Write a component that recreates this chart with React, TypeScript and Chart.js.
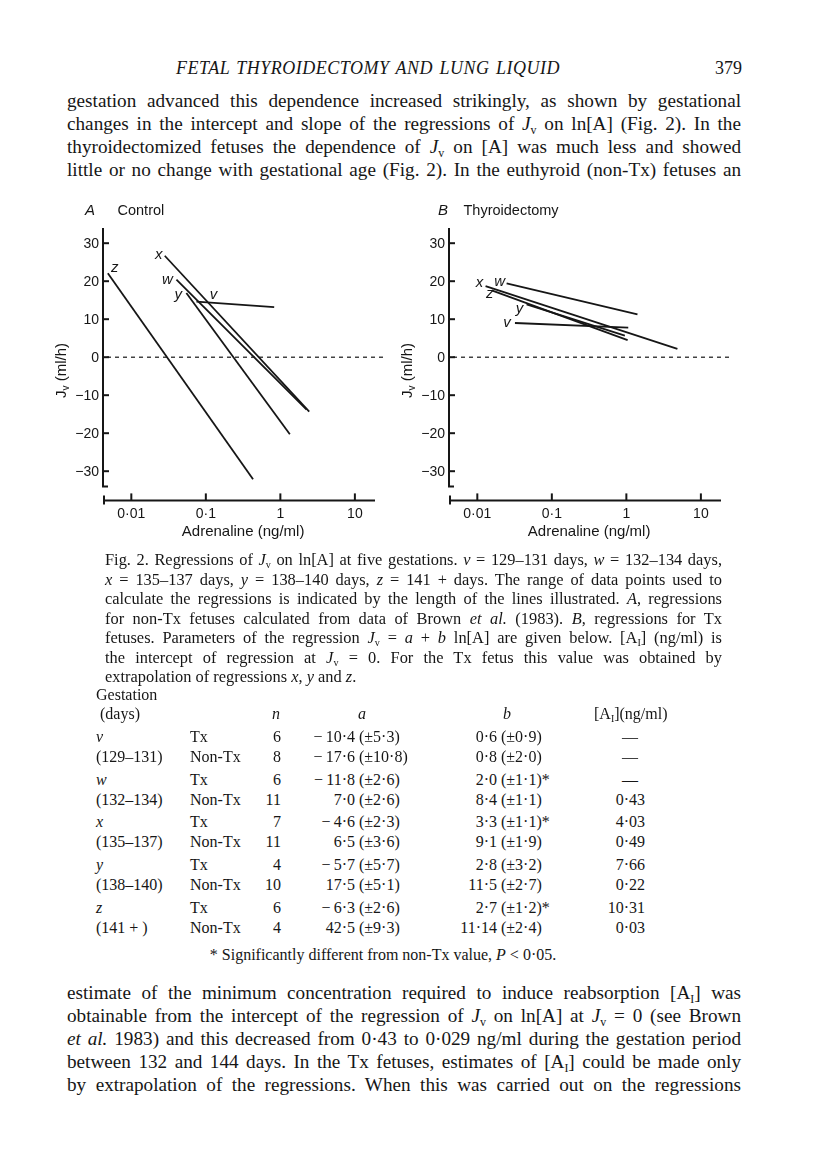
import React, { useEffect, useLayoutEffect, useRef } from 'react';
import { Chart, registerables } from 'chart.js';

Chart.register(...registerables);

// ---------- data ----------
const lineIds = ['v', 'w', 'x', 'y', 'z'];

// Panel A: Control (non-Tx) regressions, start/end of each line
const controlStartAdr = [0.0748, 0.0403, 0.0281, 0.0548, 0.00484];
const controlStartJv = [14.6, 20.4, 26.7, 16.9, 22.1];
const controlEndAdr = [0.826, 2.25, 2.44, 1.34, 0.43];
const controlEndJv = [13.2, -13.8, -14.3, -20.3, -32.1];

// Panel B: Thyroidectomy (Tx) regressions
const txStartAdr = [0.032, 0.0247, 0.0129, 0.0458, 0.0156];
const txStartJv = [9.0, 19.4, 18.7, 13.9, 17.6];
const txEndAdr = [1.06, 1.41, 4.84, 0.955, 1.04];
const txEndJv = [7.8, 11.3, 2.2, 5.7, 4.5];

const yTicks = [30, 20, 10, 0, -10, -20, -30];
const xTicks = [0.01, 0.1, 1, 10];
const xTickLabels = ['0·01', '0·1', '1', '10'];

// Table
const gestLabels = ['v', '(129–131)', 'w', '(132–134)', 'x', '(135–137)', 'y', '(138–140)', 'z', '(141 + )'];
const gestItalic = [true, false, true, false, true, false, true, false, true, false];
const groups = ['Tx', 'Non-Tx', 'Tx', 'Non-Tx', 'Tx', 'Non-Tx', 'Tx', 'Non-Tx', 'Tx', 'Non-Tx'];
const nValues = ['6', '8', '6', '11', '7', '11', '4', '10', '6', '4'];
const aValues = ['−\u200910·4', '−\u200917·6', '−\u200911·8', '7·0', '−\u20094·6', '6·5', '−\u20095·7', '17·5', '−\u20096·3', '42·5'];
const aErrors = ['5·3', '10·8', '2·6', '2·6', '2·3', '3·6', '5·7', '5·1', '2·6', '9·3'];
const bValues = ['0·6', '0·8', '2·0', '8·4', '3·3', '9·1', '2·8', '11·5', '2·7', '11·14'];
const bErrors = ['0·9', '2·0', '1·1', '1·1', '1·1', '1·9', '3·2', '2·7', '1·2', '2·4'];
const bSignificant = [false, false, true, false, true, false, false, false, true, false];
const a1Values = ['—', '—', '—', '0·43', '4·03', '0·49', '7·66', '0·22', '10·31', '0·03'];

// ---------- styling / layout ----------
const INK = '#161616';
const SANS = '"Liberation Sans", Arial, sans-serif';
const SERIF = '"Liberation Serif", "Times New Roman", serif';
const X_MIN = Math.pow(10, -2.38);
const X_MAX = Math.pow(10, 1.27);

type PanelCfg = {
  letter: string;
  title: string;
  letterDx: number;
  labelOffsets: number[][];
};

function makeAxesPlugin(cfg: PanelCfg) {
  return {
    id: 'paperAxes',
    beforeDatasetsDraw(chart: any) {
      const { ctx, chartArea: ca, scales } = chart;
      const y0 = scales.y.getPixelForValue(0);
      ctx.save();
      ctx.strokeStyle = INK;
      ctx.lineWidth = 1.2;
      ctx.setLineDash([4, 4]);
      ctx.beginPath();
      ctx.moveTo(ca.left + 4, y0);
      ctx.lineTo(ca.right + 12, y0);
      ctx.stroke();
      ctx.restore();
    },
    afterDraw(chart: any) {
      const { ctx, chartArea: ca, scales } = chart;
      const xs = scales.x;
      const ys = scales.y;
      ctx.save();
      ctx.strokeStyle = INK;
      ctx.fillStyle = INK;
      ctx.setLineDash([]);
      // y axis
      ctx.lineWidth = 2;
      ctx.beginPath();
      ctx.moveTo(ca.left, ca.top);
      ctx.lineTo(ca.left, ca.bottom);
      ctx.moveTo(ca.left - 1, ca.bottom);
      ctx.lineTo(ca.left + 5, ca.bottom);
      ctx.stroke();
      ctx.font = `14px ${SANS}`;
      ctx.textAlign = 'right';
      ctx.textBaseline = 'middle';
      yTicks.forEach((t) => {
        const py = ys.getPixelForValue(t);
        ctx.beginPath();
        ctx.moveTo(ca.left, py);
        ctx.lineTo(ca.left + 6, py);
        ctx.stroke();
        ctx.fillText(t < 0 ? '−' + Math.abs(t) : String(t), ca.left - 4, py + 1);
      });
      // x axis (detached below)
      const ax = ca.bottom + 14;
      ctx.beginPath();
      ctx.moveTo(ca.left, ax);
      ctx.lineTo(ca.right, ax);
      ctx.moveTo(ca.left + 1, ax - 5);
      ctx.lineTo(ca.left + 1, ax + 4);
      ctx.stroke();
      ctx.textAlign = 'center';
      xTicks.forEach((t, i) => {
        const px = xs.getPixelForValue(t);
        ctx.beginPath();
        ctx.moveTo(px, ax);
        ctx.lineTo(px, ax - 7);
        ctx.stroke();
        ctx.fillText(xTickLabels[i], px, ax + 14);
      });
      ctx.font = `15px ${SANS}`;
      const mid = (xs.getPixelForValue(xTicks[0]) + xs.getPixelForValue(xTicks[xTicks.length - 1])) / 2;
      ctx.fillText('Adrenaline (ng/ml)', mid, ax + 31);
      // y title rotated
      ctx.save();
      ctx.translate(ca.left - 41, ys.getPixelForValue(-3.5));
      ctx.rotate(-Math.PI / 2);
      ctx.textAlign = 'left';
      ctx.font = `15px ${SANS}`;
      const wJ = ctx.measureText('J').width;
      ctx.font = `10px ${SANS}`;
      const wv = ctx.measureText('v').width;
      ctx.font = `15px ${SANS}`;
      const rest = ' (ml/h)';
      const wr = ctx.measureText(rest).width;
      let sx = -(wJ + wv + wr) / 2;
      ctx.fillText('J', sx, 0);
      sx += wJ;
      ctx.font = `10px ${SANS}`;
      ctx.fillText('v', sx, 4);
      sx += wv;
      ctx.font = `15px ${SANS}`;
      ctx.fillText(rest, sx, 0);
      ctx.restore();
      // panel title
      ctx.textAlign = 'center';
      ctx.font = `italic 15px ${SANS}`;
      ctx.fillText(cfg.letter, ca.left + cfg.letterDx, ca.top - 17);
      ctx.textAlign = 'left';
      ctx.font = `14.5px ${SANS}`;
      ctx.fillText(cfg.title, ca.left + 14.5, ca.top - 17);
      // line labels
      ctx.textAlign = 'center';
      ctx.font = `italic 15px ${SANS}`;
      chart.data.datasets.forEach((ds: any, i: number) => {
        const p = chart.getDatasetMeta(i).data[0];
        const off = cfg.labelOffsets[i];
        ctx.fillText(ds.label, p.x + off[0], p.y + off[1]);
      });
      ctx.restore();
    },
  };
}

function Panel(props: {
  left: number;
  top: number;
  cfg: PanelCfg;
  startAdr: number[];
  startJv: number[];
  endAdr: number[];
  endJv: number[];
}) {
  const ref = useRef<HTMLCanvasElement>(null);
  useEffect(() => {
    const datasets = lineIds.map((id, i) => ({
      label: id,
      data: [
        { x: props.startAdr[i], y: props.startJv[i] },
        { x: props.endAdr[i], y: props.endJv[i] },
      ],
      borderColor: INK,
      borderWidth: 1.8,
      pointRadius: 0,
      fill: false,
      tension: 0,
      clip: false as any,
    }));
    const chart = new Chart(ref.current as HTMLCanvasElement, {
      type: 'line',
      data: { datasets },
      options: {
        animation: false,
        responsive: false,
        devicePixelRatio: 1,
        events: [],
        layout: { padding: { left: 63, right: 35, top: 38, bottom: 63.6 } },
        plugins: {
          legend: { display: false },
          tooltip: { enabled: false },
          title: { display: false },
        },
        scales: {
          x: { type: 'logarithmic', min: X_MIN, max: X_MAX, display: false },
          y: { type: 'linear', min: -34, max: 34, display: false },
        },
      },
      plugins: [makeAxesPlugin(props.cfg)],
    });
    return () => chart.destroy();
  }, []);
  return (
    <canvas
      ref={ref}
      width={370}
      height={360}
      style={{ position: 'absolute', left: props.left, top: props.top, width: 370, height: 360 }}
    />
  );
}

const Sub = ({ c }: { c: string }) => (
  <span style={{ fontSize: '0.62em', position: 'relative', top: '0.3em', lineHeight: 0, fontStyle: 'normal' }}>{c}</span>
);
const Jv = () => (
  <>
    <i>J</i>
    <Sub c="v" />
  </>
);
const AI = () => (
  <>
    [A<Sub c="I" />]
  </>
);

function TextLine(props: {
  top: number;
  left: number;
  width: number;
  size: number;
  spacing?: number;
  justify?: boolean;
  children: React.ReactNode;
}) {
  const lh = 22;
  const ref = useRef<HTMLDivElement>(null);
  useLayoutEffect(() => {
    const el = ref.current;
    if (!el) return;
    let s = props.size;
    el.style.fontSize = s + 'px';
    let guard = 0;
    while (el.scrollHeight > lh + 6 && guard < 40) {
      s -= 0.2;
      el.style.fontSize = s + 'px';
      guard++;
    }
  }, []);
  return (
    <div
      ref={ref}
      style={{
        position: 'absolute',
        left: props.left,
        top: props.top - lh / 2,
        width: props.width,
        height: lh,
        lineHeight: lh + 'px',
        fontSize: props.size,
        letterSpacing: props.spacing || 0,
        fontFamily: SERIF,
        color: INK,
        textAlign: props.justify === false ? 'left' : 'justify',
        textAlignLast: props.justify === false ? 'left' : 'justify',
      } as React.CSSProperties}
    >
      {props.children}
    </div>
  );
}

function Cell(props: { x: number; y: number; align?: 'left' | 'right' | 'center'; children: React.ReactNode; italic?: boolean }) {
  const align = props.align || 'left';
  const w = 420;
  const left = align === 'left' ? props.x : align === 'right' ? props.x - w : props.x - w / 2;
  return (
    <div
      style={{
        position: 'absolute',
        left,
        top: props.y - 10,
        width: w,
        height: 20,
        lineHeight: '20px',
        textAlign: align,
        fontFamily: SERIF,
        fontSize: 16,
        fontStyle: props.italic ? 'italic' : 'normal',
        color: INK,
        whiteSpace: 'nowrap',
        pointerEvents: 'none',
      }}
    >
      {props.children}
    </div>
  );
}

const BODY = { left: 67, width: 674, size: 19.2 };
const CAP = { left: 105, width: 617, size: 16.4 };
const capY = [560, 579.5, 599, 618.5, 638, 657.5, 677];
const bodyY1 = [101, 124, 147, 170];
const bodyY2 = [993, 1016, 1039, 1062, 1085];
const rowY = [737, 757, 780, 800, 822, 842, 865, 885, 908, 928];

export default function App() {
  return (
    <div style={{ position: 'absolute', left: 0, top: 0, width: 816, height: 1166, background: '#fff', overflow: 'hidden' }}>
      {/* running header */}
      <TextLine top={68} left={176} width={384} size={18} spacing={0.5}>
        <i>FETAL THYROIDECTOMY AND LUNG LIQUID</i>
      </TextLine>
      <TextLine top={68} left={715} width={30} size={18} justify={false}>
        379
      </TextLine>

      {/* paragraph 1 */}
      <TextLine top={bodyY1[0]} {...BODY}>
        gestation advanced this dependence increased strikingly, as shown by gestational
      </TextLine>
      <TextLine top={bodyY1[1]} {...BODY}>
        changes in the intercept and slope of the regressions of <Jv /> on ln[A] (Fig. 2). In the
      </TextLine>
      <TextLine top={bodyY1[2]} {...BODY}>
        thyroidectomized fetuses the dependence of <Jv /> on [A] was much less and showed
      </TextLine>
      <TextLine top={bodyY1[3]} {...BODY}>
        little or no change with gestational age (Fig. 2). In the euthyroid (non-Tx) fetuses an
      </TextLine>

      {/* charts */}
      <Panel
        left={40}
        top={190}
        cfg={{
          letter: 'A',
          title: 'Control',
          letterDx: -13,
          labelOffsets: [[17, -7], [-9, 0], [-6, -1], [-8, 2], [7, -5]],
        }}
        startAdr={controlStartAdr}
        startJv={controlStartJv}
        endAdr={controlEndAdr}
        endJv={controlEndJv}
      />
      <Panel
        left={386}
        top={190}
        cfg={{
          letter: 'B',
          title: 'Thyroidectomy',
          letterDx: -6,
          labelOffsets: [[-8, 0], [-7, -2], [-6, -3], [-7, 4], [-2, 4]],
        }}
        startAdr={txStartAdr}
        startJv={txStartJv}
        endAdr={txEndAdr}
        endJv={txEndJv}
      />

      {/* caption */}
      <TextLine top={capY[0]} {...CAP}>
        Fig. 2. Regressions of <Jv /> on ln[A] at five gestations. <i>v</i> = 129–131 days, <i>w</i> = 132–134 days,
      </TextLine>
      <TextLine top={capY[1]} {...CAP}>
        <i>x</i> = 135–137 days, <i>y</i> = 138–140 days, <i>z</i> = 141 + days. The range of data points used to
      </TextLine>
      <TextLine top={capY[2]} {...CAP}>
        calculate the regressions is indicated by the length of the lines illustrated. <i>A</i>, regressions
      </TextLine>
      <TextLine top={capY[3]} {...CAP}>
        for non-Tx fetuses calculated from data of Brown <i>et al.</i> (1983). <i>B</i>, regressions for Tx
      </TextLine>
      <TextLine top={capY[4]} {...CAP}>
        fetuses. Parameters of the regression <Jv /> = <i>a</i> + <i>b</i> ln[A] are given below. <AI /> (ng/ml) is
      </TextLine>
      <TextLine top={capY[5]} {...CAP}>
        the intercept of regression at <Jv /> = 0. For the Tx fetus this value was obtained by
      </TextLine>
      <TextLine top={capY[6]} {...CAP} justify={false}>
        extrapolation of regressions <i>x</i>, <i>y</i> and <i>z</i>.
      </TextLine>

      {/* table header */}
      <Cell x={96} y={695}>Gestation</Cell>
      <Cell x={100} y={714}>(days)</Cell>
      <Cell x={276} y={714} align="center" italic>n</Cell>
      <Cell x={362} y={714} align="center" italic>a</Cell>
      <Cell x={507} y={714} align="center" italic>b</Cell>
      <Cell x={594} y={714}>
        <AI />(ng/ml)
      </Cell>

      {/* table rows */}
      {rowY.map((y, i) => (
        <React.Fragment key={i}>
          <Cell x={96} y={y} italic={gestItalic[i]}>{gestLabels[i]}</Cell>
          <Cell x={190} y={y}>{groups[i]}</Cell>
          <Cell x={281} y={y} align="right">{nValues[i]}</Cell>
          <Cell x={355} y={y} align="right">{aValues[i]}</Cell>
          <Cell x={359} y={y}>(±{aErrors[i]})</Cell>
          <Cell x={497} y={y} align="right">{bValues[i]}</Cell>
          <Cell x={501} y={y}>(±{bErrors[i]}){bSignificant[i] ? '*' : ''}</Cell>
          {a1Values[i] === '—' ? (
            <Cell x={630} y={y} align="center">—</Cell>
          ) : (
            <Cell x={645} y={y} align="right">{a1Values[i]}</Cell>
          )}
        </React.Fragment>
      ))}

      <Cell x={383} y={955} align="center">
        * Significantly different from non-Tx value, <i>P</i> &lt; 0·05.
      </Cell>

      {/* paragraph 2 */}
      <TextLine top={bodyY2[0]} {...BODY}>
        estimate of the minimum concentration required to induce reabsorption <AI /> was
      </TextLine>
      <TextLine top={bodyY2[1]} {...BODY}>
        obtainable from the intercept of the regression of <Jv /> on ln[A] at <Jv /> = 0 (see Brown
      </TextLine>
      <TextLine top={bodyY2[2]} {...BODY}>
        <i>et al.</i> 1983) and this decreased from 0·43 to 0·029 ng/ml during the gestation period
      </TextLine>
      <TextLine top={bodyY2[3]} {...BODY}>
        between 132 and 144 days. In the Tx fetuses, estimates of <AI /> could be made only
      </TextLine>
      <TextLine top={bodyY2[4]} {...BODY}>
        by extrapolation of the regressions. When this was carried out on the regressions
      </TextLine>
    </div>
  );
}
